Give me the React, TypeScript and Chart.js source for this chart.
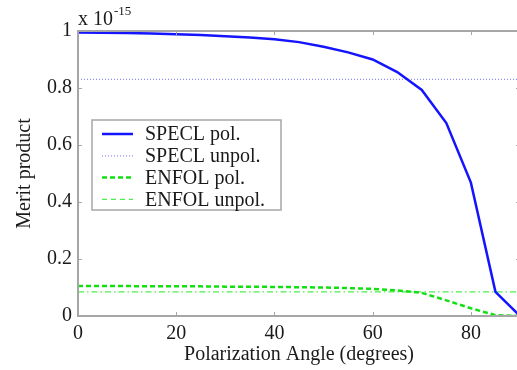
import React, { useEffect, useRef } from "react";
import { Chart, registerables } from "chart.js";

Chart.register(...registerables);

const angles = [0, 5, 10, 15, 20, 25, 30, 35, 40, 45, 50, 55, 60, 65, 70, 75, 80, 85, 90];
const speclPol = [0.995, 0.994, 0.993, 0.991, 0.989, 0.986, 0.982, 0.977, 0.971, 0.961, 0.945, 0.925, 0.9, 0.856, 0.793, 0.677, 0.468, 0.085, 0.0];
const speclUnpol = [0.83, 0.83, 0.83, 0.83, 0.83, 0.83, 0.83, 0.83, 0.83, 0.83, 0.83, 0.83, 0.83, 0.83, 0.83, 0.83, 0.83, 0.83, 0.83];
const enfolPol = [0.105, 0.105, 0.105, 0.104, 0.104, 0.104, 0.103, 0.103, 0.102, 0.101, 0.1, 0.098, 0.095, 0.09, 0.081, 0.055, 0.027, 0.003, 0.0];
const enfolUnpol = [0.085, 0.085, 0.085, 0.085, 0.085, 0.085, 0.085, 0.085, 0.085, 0.085, 0.085, 0.085, 0.085, 0.085, 0.085, 0.085, 0.085, 0.085, 0.085];

const seriesLabels = ["SPECL pol.", "SPECL unpol.", "ENFOL pol.", "ENFOL unpol."];
const xTicks = [0, 20, 40, 60, 80];
const yTicks = [0, 0.2, 0.4, 0.6, 0.8, 1];
const yTickLabels = ["0", "0.2", "0.4", "0.6", "0.8", "1"];
const xTitle = "Polarization Angle (degrees)";
const yTitle = "Merit product";
const exponentBase = "x 10";
const exponentPower = "-15";

const FONT = "'Liberation Serif', 'Times New Roman', serif";
const AXIS_COLOR = "#a6a6a6";
const TEXT_COLOR = "#1a1a1a";

const toPoints = (ys: number[]) => angles.map((a, i) => ({ x: a, y: ys[i] }));

const framePlugin = {
  id: "matlabFrame",
  afterDatasetsDraw(chart: any) {
    const { ctx, chartArea } = chart;
    const { left, right, top, bottom } = chartArea;
    const xs = chart.scales.x;
    const ys = chart.scales.y;
    ctx.save();
    // frame
    ctx.strokeStyle = AXIS_COLOR;
    ctx.lineWidth = 2;
    ctx.beginPath();
    ctx.rect(left, top, right - left, bottom - top);
    ctx.stroke();
    // inward ticks
    ctx.lineWidth = 1;
    const tl = 4;
    ctx.beginPath();
    xTicks.forEach((v) => {
      const px = Math.round(xs.getPixelForValue(v)) + 0.5;
      ctx.moveTo(px, bottom);
      ctx.lineTo(px, bottom - tl);
      ctx.moveTo(px, top);
      ctx.lineTo(px, top + tl);
    });
    yTicks.forEach((v) => {
      const py = Math.round(ys.getPixelForValue(v)) + 0.5;
      ctx.moveTo(left, py);
      ctx.lineTo(left + tl, py);
      ctx.moveTo(right, py);
      ctx.lineTo(right - tl, py);
    });
    ctx.stroke();

    // exponent label
    ctx.fillStyle = TEXT_COLOR;
    ctx.textAlign = "left";
    ctx.textBaseline = "alphabetic";
    ctx.font = `20px ${FONT}`;
    ctx.fillText(exponentBase, left, top - 6);
    const w = ctx.measureText(exponentBase).width;
    ctx.font = `13px ${FONT}`;
    ctx.fillText(exponentPower, left + w + 1, top - 16);

    // legend
    const lx = left + 14;
    const ly = top + 89;
    const lw = 189;
    const lh = 90;
    ctx.fillStyle = "#ffffff";
    ctx.fillRect(lx, ly, lw, lh);
    ctx.strokeStyle = AXIS_COLOR;
    ctx.lineWidth = 1.5;
    ctx.strokeRect(lx, ly, lw, lh);
    chart.data.datasets.forEach((ds: any, i: number) => {
      const ry = ly + 14 + i * 21.8;
      ctx.save();
      ctx.strokeStyle = ds.borderColor;
      ctx.lineWidth = ds.borderWidth;
      ctx.setLineDash(ds.legendDash || ds.borderDash || []);
      ctx.beginPath();
      ctx.moveTo(lx + 10, ry);
      ctx.lineTo(lx + 41, ry);
      ctx.stroke();
      ctx.restore();
      ctx.fillStyle = TEXT_COLOR;
      ctx.font = `20px ${FONT}`;
      ctx.textAlign = "left";
      ctx.textBaseline = "middle";
      ctx.fillText(ds.label, lx + 53, ry + 1);
    });
    ctx.restore();
  },
};

export default function App() {
  const canvasRef = useRef<HTMLCanvasElement | null>(null);

  useEffect(() => {
    const canvas = canvasRef.current;
    if (!canvas) return;
    const chart = new Chart(canvas, {
      type: "line",
      data: {
        datasets: [
          {
            label: seriesLabels[0],
            data: toPoints(speclPol),
            borderColor: "#1414ff",
            borderWidth: 2.5,
            pointRadius: 0,
            tension: 0,
          },
          {
            label: seriesLabels[1],
            data: toPoints(speclUnpol),
            borderColor: "#8c8cff",
            borderWidth: 1.2,
            borderDash: [1, 2],
            pointRadius: 0,
            tension: 0,
          },
          {
            label: seriesLabels[2],
            data: toPoints(enfolPol),
            borderColor: "#12e012",
            borderWidth: 2.5,
            borderDash: [5, 3],
            pointRadius: 0,
            tension: 0,
          },
          {
            label: seriesLabels[3],
            data: toPoints(enfolUnpol),
            borderColor: "#4cf04c",
            borderWidth: 1.2,
            borderDash: [6, 3, 1.5, 3],
            legendDash: [5, 4],
            pointRadius: 0,
            tension: 0,
          } as any,
        ],
      },
      options: {
        animation: false,
        responsive: false,
        devicePixelRatio: 1,
        layout: { padding: { left: 0, right: 3, top: 31, bottom: 0 } },
        plugins: {
          legend: { display: false },
          tooltip: { enabled: false },
        },
        scales: {
          x: {
            type: "linear",
            min: 0,
            max: 90,
            afterBuildTicks: (scale: any) => {
              scale.ticks = xTicks.map((v) => ({ value: v }));
            },
            afterFit: (scale: any) => {
              scale.height = 54;
            },
            grid: { display: false, drawTicks: false },
            border: { display: false },
            ticks: {
              padding: 6,
              color: TEXT_COLOR,
              font: { family: FONT, size: 20 },
              maxRotation: 0,
              callback: (v: any) => String(v),
            },
            title: {
              display: true,
              text: xTitle,
              color: TEXT_COLOR,
              font: { family: FONT, size: 20 },
              padding: { top: 0, bottom: 3 },
            },
          },
          y: {
            type: "linear",
            min: 0,
            max: 1,
            afterBuildTicks: (scale: any) => {
              scale.ticks = yTicks.map((v) => ({ value: v }));
            },
            afterFit: (scale: any) => {
              scale.width = 78;
            },
            grid: { display: false, drawTicks: false },
            border: { display: false },
            ticks: {
              padding: 6,
              color: TEXT_COLOR,
              font: { family: FONT, size: 20 },
              callback: (v: any) => {
                const i = yTicks.findIndex((t) => Math.abs(t - Number(v)) < 1e-9);
                return i >= 0 ? yTickLabels[i] : "";
              },
            },
            title: {
              display: true,
              text: yTitle,
              color: TEXT_COLOR,
              font: { family: FONT, size: 20 },
              padding: { top: 13, bottom: 0 },
            },
          },
        },
      },
      plugins: [framePlugin],
    });
    return () => chart.destroy();
  }, []);

  return (
    <div
      style={{
        position: "fixed",
        left: 0,
        top: 0,
        width: 517,
        height: 370,
        overflow: "hidden",
        background: "#ffffff",
      }}
    >
      <canvas ref={canvasRef} width={523} height={370} style={{ display: "block", width: 523, height: 370 }} />
    </div>
  );
}
